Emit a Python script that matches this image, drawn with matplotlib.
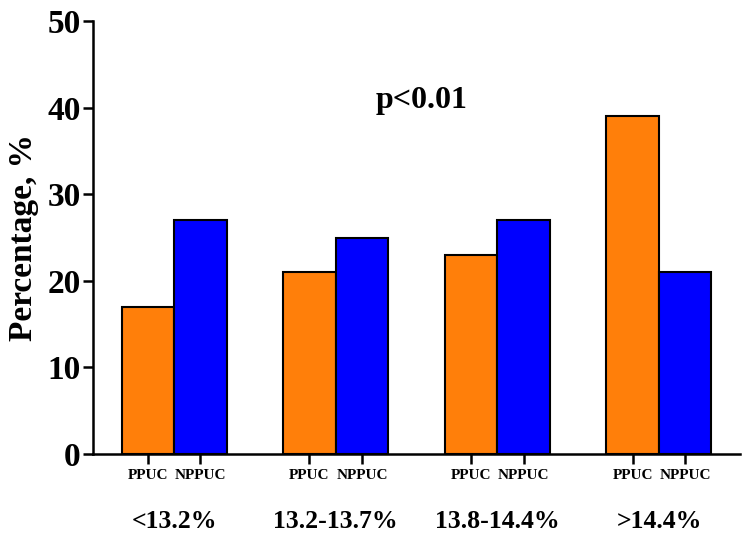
import matplotlib
matplotlib.use('Agg')
import matplotlib.pyplot as plt
import numpy as np

plt.rcParams['font.family'] = ['Liberation Serif', 'DejaVu Serif']
plt.rcParams['font.weight'] = 'bold'

groups = ['<13.2%', '13.2-13.7%', '13.8-14.4%', '>14.4%']
series_names = ['PPUC', 'NPPUC']
ppuc = [17, 21, 23, 39]
nppuc = [27, 25, 27, 21]

x = np.arange(len(groups))
w = 0.325

fig = plt.figure(figsize=(7.48, 5.41), dpi=100)
ax = fig.add_axes([0.1247, 0.1608, 0.8643, 0.8002])

ax.bar(x - w / 2, ppuc, w, color='#FF7F0A', edgecolor='black', linewidth=1.5)
ax.bar(x + w / 2, nppuc, w, color='#0000FF', edgecolor='black', linewidth=1.5)

ax.set_xlim(-0.5, 3.5)
ax.set_ylim(0, 50)
ax.set_yticks([0, 10, 20, 30, 40, 50])

ticks = np.concatenate([x - w / 2, x + w / 2])
labels = [series_names[0]] * len(x) + [series_names[1]] * len(x)
ax.set_xticks(ticks)
ax.set_xticklabels(labels, fontsize=11, fontweight='bold')

for lab in ax.get_yticklabels():
    lab.set_fontsize(24)
    lab.set_fontweight('bold')

ax.tick_params(axis='both', direction='out', length=7, width=1.8)
ax.tick_params(axis='x', pad=4)
ax.tick_params(axis='y', pad=2)

for s in ['top', 'right']:
    ax.spines[s].set_visible(False)
for s in ['left', 'bottom']:
    ax.spines[s].set_linewidth(1.8)

for i, g in enumerate(groups):
    ax.text(i, -0.155, g, transform=ax.get_xaxis_transform(), ha='center', va='center',
            fontsize=18.5, fontweight='bold')

ax.set_ylabel('Percentage, %', fontsize=24, fontweight='bold', labelpad=6)

ax.text(1.53, 40.8, 'p<0.01', ha='center', va='center', fontsize=23, fontweight='bold')

fig.savefig('out.png', dpi=100)
